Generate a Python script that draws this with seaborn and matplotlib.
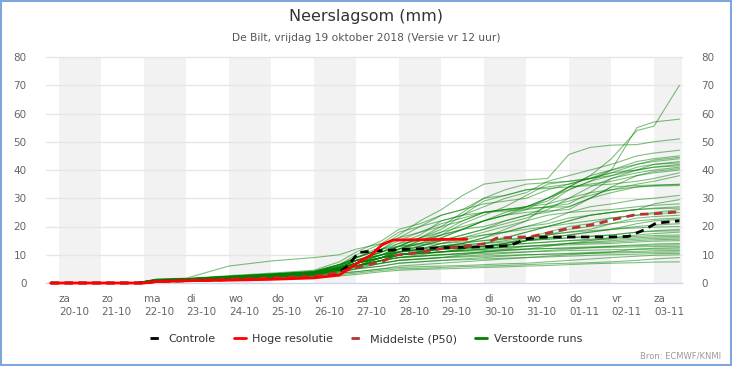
import numpy as np
import pandas as pd
import matplotlib
matplotlib.use("Agg")
import matplotlib.pyplot as plt
import seaborn as sns
from matplotlib.lines import Line2D
from matplotlib.patches import Rectangle

sns.set_style("white")
plt.rcParams['font.family'] = ['DejaVu Sans']

# days since za 20-10 00:00
day_labels = ["za\n20-10", "zo\n21-10", "ma\n22-10", "di\n23-10", "wo\n24-10", "do\n25-10",
              "vr\n26-10", "za\n27-10", "zo\n28-10", "ma\n29-10", "di\n30-10", "wo\n31-10",
              "do\n01-11", "vr\n02-11", "za\n03-11"]

# time grid of the perturbed runs
t_runs = [-0.19, 1.8, 2.3, 3.0, 4.0, 5.0, 6.0, 6.6, 7.0, 7.6, 8.0, 8.5, 9.0, 9.5, 10.0,
          10.5, 11.0, 11.5, 12.0, 12.5, 13.0, 13.6, 14.0, 14.6]

runs = [
    [0, 0, 1.0, 1.3, 2.0, 2.8, 3.6, 5, 7, 9, 11, 13, 16, 19, 22, 24, 27, 29, 34, 38, 44, 54, 55.5, 70],
    [0, 0, 0.8, 1.0, 1.8, 2.6, 3.4, 4.5, 6, 9, 12, 15, 17, 19, 22, 25, 27, 30, 33, 36, 40, 55, 57, 58],
    [0, 0, 1.2, 1.5, 2.4, 3.2, 4.2, 6.5, 9, 13, 17, 22, 26, 31, 35, 36, 36.5, 37, 45.5, 48, 48.8, 49, 50, 51],
    [0, 0, 0.9, 1.2, 2.0, 2.7, 3.5, 5.5, 8, 11, 14, 17, 22, 24, 27, 30, 32, 36, 38, 40, 42, 45, 46, 47],
    [0, 0, 1.0, 1.4, 2.2, 3.0, 3.9, 6, 9, 12, 16, 20, 24, 26, 30, 31, 33, 34, 35, 37, 40, 43, 44, 45],
    [0, 0, 0.7, 1.0, 1.6, 2.3, 3.0, 5, 7, 10, 12, 14, 17, 21, 24, 27, 31, 35, 36, 37, 39, 42, 43.5, 44.5],
    [0, 0, 1.1, 1.4, 2.3, 3.1, 4.0, 6.5, 10, 14, 18, 20, 22, 24, 25, 25.5, 26, 30, 34, 38, 40, 42, 43, 44],
    [0, 0, 0.8, 1.1, 1.8, 2.5, 3.3, 4.8, 6, 8, 11, 13, 15, 17, 19, 21, 23, 26, 30, 34, 37, 40, 42, 43],
    [0, 0, 0.9, 1.3, 2.1, 2.9, 3.7, 5.5, 8, 11, 13, 16, 20, 25, 30, 33, 35, 35.5, 36, 37, 38, 41, 42, 42.5],
    [0, 0, 1.3, 1.6, 2.6, 3.5, 4.5, 7.5, 11, 15, 19, 21, 24, 26, 28, 29, 30, 33, 35, 37, 39, 40, 41, 42],
    [0, 0, 0.6, 0.9, 1.5, 2.2, 2.9, 4.5, 6, 9, 11, 12, 14, 16, 18, 20, 22, 28, 33, 36, 38, 40, 41, 41.5],
    [0, 0, 1.0, 1.3, 2.0, 2.8, 3.6, 5.5, 8, 10, 12, 14, 16, 19, 22, 24, 26, 27, 28, 32, 37, 39, 40, 41],
    [0, 0, 0.8, 1.2, 1.9, 2.7, 3.4, 5.5, 7, 9, 12, 15, 18, 22, 25, 26, 27, 30, 34, 35, 36, 38, 39.5, 40.5],
    [0, 0, 1.1, 1.5, 2.4, 3.2, 4.1, 6.5, 9, 12, 15, 18, 21, 23, 25, 26, 26.5, 26.8, 27, 30, 34, 38, 39, 40],
    [0, 0, 0.9, 1.2, 1.9, 2.6, 3.3, 5, 7, 10, 13, 16, 19, 24, 29, 31, 33, 33.5, 34, 34.5, 35, 36, 37, 39],
    [0, 0, 1.2, 1.5, 2.3, 3.1, 3.9, 6, 9, 12, 14, 15, 17, 19, 20, 22, 24, 27, 29, 31, 33, 35, 36, 38],
    [0, 0, 0.7, 1.1, 1.7, 2.5, 3.2, 5, 7, 10, 12, 13, 15, 17, 19, 22, 24, 25, 27, 30, 32, 34, 34.5, 35],
    [0, 0, 1.0, 1.4, 2.2, 2.9, 3.8, 5.5, 8, 11, 13, 16, 18, 20, 22, 24, 25, 25.5, 26, 30, 34, 34.5, 34.7, 34.8],
    [0, 0, 1.4, 1.7, 6.0, 7.8, 9.0, 10, 12, 14, 16, 18, 20, 22, 25, 26, 27, 28, 30, 32, 33, 34, 34.3, 34.5],
    [0, 0, 0.8, 1.2, 1.9, 2.6, 3.4, 5, 6, 9, 11, 12, 14, 15, 17, 18, 20, 22, 25, 27, 28, 29.5, 30, 31],
    [0, 0, 1.0, 1.3, 2.0, 2.8, 3.5, 5.5, 7, 9, 10, 11, 13, 14, 16, 18, 20, 21, 23, 24, 25, 26, 28, 29.5],
    [0, 0, 0.9, 1.2, 1.8, 2.5, 3.2, 4.5, 6, 8, 10, 11, 13, 14, 16, 19, 22, 24, 25, 25.5, 26, 27, 27.5, 28],
    [0, 0, 1.1, 1.4, 2.2, 3.0, 3.8, 6.5, 8, 11, 13, 14, 15, 16, 17, 18, 19, 20, 22, 24, 25, 26, 26.5, 27],
    [0, 0, 0.6, 1.0, 1.6, 2.3, 3.0, 4.5, 6, 8, 9, 10, 11, 12, 14, 16, 18, 20, 22, 24, 25, 26, 26.3, 26.5],
    [0, 0, 1.0, 1.3, 2.0, 2.7, 3.5, 5.5, 6, 8, 10, 11, 13, 14, 15, 16, 18, 20, 21, 22, 23, 24, 25, 26],
    [0, 0, 0.8, 1.1, 1.7, 2.4, 3.1, 5, 6, 8, 10, 11, 12, 12.5, 13, 14, 16, 18, 20, 21, 23, 24, 24.5, 25],
    [0, 0, 1.2, 1.5, 2.3, 3.1, 4.0, 6.5, 8, 10, 11, 12, 13, 13.5, 14, 15, 16, 17, 18, 19, 21, 23, 23.5, 24],
    [0, 0, 0.9, 1.2, 1.9, 2.6, 3.4, 5, 7, 9, 10, 10.5, 11, 11.5, 12, 13, 15, 17, 19, 20, 21, 22, 22.5, 23],
    [0, 0, 1.0, 1.4, 2.1, 2.9, 3.6, 5.5, 7, 9, 10, 11, 12, 12.5, 13, 14, 15, 16, 17, 18, 19, 21, 22, 22.5],
    [0, 0, 0.7, 1.0, 1.6, 2.3, 3.0, 4.5, 6, 8, 10, 10.5, 11, 11.5, 12, 13, 15, 16, 17, 18, 19, 20, 20.5, 21],
    [0, 0, 1.1, 1.4, 2.2, 3.0, 3.7, 6, 9, 12, 13, 13.5, 14, 14.5, 15, 15.5, 16, 17, 18, 18.5, 19, 19.5, 19.8, 20],
    [0, 0, 0.8, 1.1, 1.8, 2.5, 3.3, 5, 7, 9, 11, 12, 13, 13.5, 14, 14.5, 15, 15.5, 16, 16.5, 17, 18, 18.5, 19],
    [0, 0, 0.9, 1.3, 2.0, 2.8, 3.5, 5.5, 7, 9, 10, 10.5, 11, 12, 13, 14, 15, 15.5, 16, 16.5, 17, 18, 18.3, 18.5],
    [0, 0, 1.0, 1.3, 2.0, 2.7, 3.5, 5, 6, 8, 9, 9.5, 10, 10.5, 11, 11.5, 12, 13, 14, 15, 16, 17, 17.5, 18],
    [0, 0, 0.6, 0.9, 1.5, 2.2, 2.9, 4.5, 6, 8, 10, 11, 12, 12.5, 13, 13.5, 14, 14.5, 15, 15.5, 16, 16.5, 16.8, 17],
    [0, 0, 1.1, 1.4, 2.1, 2.9, 3.7, 5.5, 8, 10, 11, 11.5, 12, 12.5, 13, 13.5, 14, 14.5, 15, 15.2, 15.5, 16, 16.3, 16.5],
    [0, 0, 0.8, 1.0, 1.7, 2.3, 3.0, 4.5, 6, 7, 8, 8.5, 9, 10, 11, 12, 13, 13.5, 14, 14.5, 15, 15.5, 15.8, 16],
    [0, 0, 0.9, 1.2, 1.8, 2.5, 3.3, 5, 7, 9, 10, 10.5, 11, 11.5, 12, 12.5, 13, 13.5, 14, 14.2, 14.5, 15, 15.3, 15.5],
    [0, 0, 1.0, 1.3, 2.0, 2.8, 3.5, 5.5, 8, 10, 11, 11.5, 12, 12.2, 12.5, 12.8, 13, 13.2, 13.5, 13.8, 14, 14.5, 14.8, 15],
    [0, 0, 0.7, 0.9, 1.5, 2.1, 2.8, 4, 5, 7, 8, 8.5, 9, 9.5, 10, 10.5, 11, 11.5, 12, 12.5, 13, 13.5, 13.8, 14],
    [0, 0, 0.8, 1.1, 1.7, 2.4, 3.1, 4.5, 6, 8, 9, 9.5, 10, 10.5, 11, 11.5, 12, 12.2, 12.5, 12.8, 13, 13.2, 13.4, 13.5],
    [0, 0, 0.9, 1.2, 1.9, 2.6, 3.3, 5, 7, 9, 10, 10.5, 11, 11.2, 11.5, 11.8, 12, 12.2, 12.3, 12.5, 12.6, 12.8, 12.9, 13],
    [0, 0, 0.5, 0.8, 1.3, 1.9, 2.5, 3.5, 4, 5, 6, 6.5, 7, 7.5, 8, 8.5, 9, 9.5, 10, 10.5, 11, 12, 12.3, 12.5],
    [0, 0, 1.0, 1.3, 2.0, 2.7, 3.4, 5, 6, 8, 9, 9.5, 10, 10.2, 10.5, 10.8, 11, 11.2, 11.5, 11.6, 11.8, 11.9, 12, 12],
    [0, 0, 0.6, 0.9, 1.4, 2.0, 2.6, 4, 5, 6, 7, 7.5, 8, 8.5, 9, 9.5, 10, 10.2, 10.5, 10.8, 11, 11.2, 11.4, 11.5],
    [0, 0, 0.8, 1.1, 1.7, 2.3, 3.0, 4.5, 5.5, 7, 8, 8.5, 9, 9.2, 9.5, 9.8, 10, 10.2, 10.3, 10.5, 10.6, 10.8, 10.9, 11],
    [0, 0, 0.7, 1.0, 1.5, 2.1, 2.7, 4, 5, 6, 7, 7.5, 8, 8.2, 8.5, 8.8, 9, 9.2, 9.5, 9.8, 10, 10.2, 10.4, 10.5],
    [0, 0, 0.5, 0.7, 1.1, 1.7, 2.3, 3.5, 4, 5, 5.5, 5.8, 6, 6.2, 6.5, 6.8, 7, 7.5, 8, 8.5, 9, 9.5, 9.8, 10],
    [0, 0, 0.4, 0.6, 1.0, 1.5, 2.0, 3, 3.5, 4.5, 5, 5.2, 5.5, 5.8, 6, 6.2, 6.5, 6.8, 7, 7.2, 7.5, 8, 8.5, 9],
    [0, 0, 0.3, 0.5, 0.9, 1.3, 1.8, 2.5, 3, 4, 4.5, 4.8, 5, 5.2, 5.5, 5.7, 6, 6.2, 6.5, 6.8, 7, 7.2, 7.4, 7.5],
]

t_ctrl = [-0.19, 2.0, 2.3, 3.0, 4.0, 5.0, 6.0, 6.5, 6.8, 7.05, 7.4, 8.0, 9.0, 10.0, 10.6, 11.0, 11.3, 12.0, 13.0, 13.4, 13.8, 14.05, 14.6]
v_ctrl = [0, 0, 0.6, 0.8, 1.2, 1.6, 2.2, 2.8, 6.0, 10.8, 11.3, 11.8, 12.5, 12.8, 13.2, 15.6, 16.2, 16.3, 16.3, 16.5, 19.0, 21.2, 22.0]

t_hres = [-0.19, 2.0, 2.3, 3.0, 4.0, 5.0, 6.0, 6.6, 7.07, 7.35, 7.6, 7.86, 8.8, 9.6]
v_hres = [0, 0, 0.5, 0.8, 1.0, 1.3, 1.8, 2.8, 7.5, 9.9, 13.5, 15.2, 15.4, 15.5]

t_med = [-0.19, 2.0, 2.3, 3.0, 4.0, 5.0, 6.0, 6.6, 7.0, 7.6, 7.95, 8.5, 9.04, 9.5, 10.05, 10.3, 11.1, 11.9, 12.65, 13.0, 13.6, 14.0, 14.6]
v_med = [0, 0, 0.6, 0.9, 1.3, 1.8, 2.4, 3.8, 5.5, 7.5, 9.9, 10.8, 12.3, 12.9, 14.0, 15.9, 16.4, 19.0, 20.9, 22.3, 24.3, 24.5, 25.2]

rows = []
for i, r in enumerate(runs):
    assert len(r) == len(t_runs), i
    for t, v in zip(t_runs, r):
        rows.append((i, t, v))
df = pd.DataFrame(rows, columns=['run', 't', 'v'])

fig = plt.figure(figsize=(7.32, 3.66), dpi=100)
ax = fig.add_axes([46/732, 1-283/366, 636/732, 226/366])

# alternating day bands
for d in range(0, 15, 2):
    ax.axvspan(d, min(d+1, 14.66), color='#f2f2f2', zorder=0, lw=0)
for y in range(10, 90, 10):
    ax.axhline(y, color='#e6e6e6', lw=1, zorder=0.5)

sns.lineplot(data=df, x='t', y='v', units='run', estimator=None, color='#008000',
             alpha=0.5, lw=0.8, legend=False, ax=ax)
sns.lineplot(x=t_ctrl, y=v_ctrl, color='black', lw=2, ax=ax,
             linestyle=(0, (3, 2)), zorder=5)
sns.lineplot(x=t_hres, y=v_hres, color='#ff0000', lw=2, ax=ax, zorder=6)
sns.lineplot(x=t_med, y=v_med, color='#b83232', lw=2, ax=ax, linestyle=(0, (3, 2)), zorder=5)
for ln in ax.lines:
    ln.set_clip_on(False)

ax.set_xlim(-0.3, 14.66)
ax.set_ylim(0, 80)
ax.set_xlabel('')
ax.set_ylabel('')
ax.set_yticks(range(0, 90, 10))
ax.tick_params(axis='y', length=0, labelsize=7.5, labelcolor='#666666', pad=14,
               left=True, right=True, labelleft=True, labelright=True)
ax.set_xticks(range(15))
ax.set_xticklabels(day_labels, ha='left', linespacing=1.3)
ax.tick_params(axis='x', length=6, color='#ccd6eb', labelsize=7.5, labelcolor='#666666', pad=2)
for s in ['top', 'left', 'right']:
    ax.spines[s].set_visible(False)
ax.spines['bottom'].set_color('#ccd6eb')
ax.spines['bottom'].set_linewidth(1)

fig.text(0.5, 1-17/366, 'Neerslagsom (mm)', ha='center', va='center', fontsize=11.5, color='#333333')
fig.text(0.5, 1-38/366, 'De Bilt, vrijdag 19 oktober 2018 (Versie vr 12 uur)', ha='center',
         va='center', fontsize=7.7, color='#555555')

handles = [Line2D([], [], color='black', lw=2, linestyle=(0, (3, 2))),
           Line2D([], [], color='#ff0000', lw=2),
           Line2D([], [], color='#b83232', lw=2, linestyle=(0, (3, 2))),
           Line2D([], [], color='#008000', lw=2)]
labels = ['Controle', 'Hoge resolutie', 'Middelste (P50)', 'Verstoorde runs']
fig.legend(handles, labels, loc='center', bbox_to_anchor=(0.5, 1-339/366), ncol=4,
           frameon=False, fontsize=8, handlelength=1.1, handletextpad=0.6,
           columnspacing=1.6, labelcolor='#333333')
fig.text(0.985, 1-356/366, 'Bron: ECMWF/KNMI', ha='right', va='center', fontsize=6, color='#999999')

fig.patches.append(Rectangle((0.001, 0.002), 0.997, 0.995, transform=fig.transFigure,
                             fill=False, edgecolor='#7fa7dc', lw=1.5))

fig.savefig('out.png', dpi=100)
